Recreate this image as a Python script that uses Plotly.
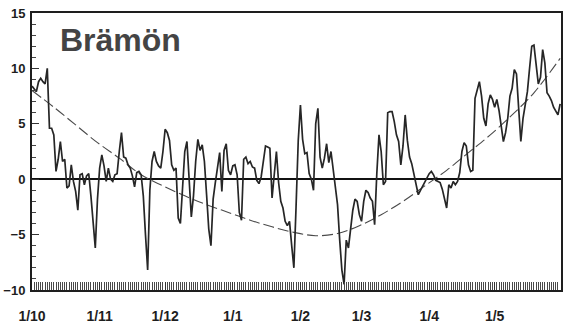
import plotly.graph_objects as go

# Month starts from 1 October to 1 May, and their axis labels
month_lengths = [31, 30, 31, 31, 28, 31, 30]
tick_labels = ["1/10", "1/11", "1/12", "1/1", "1/2", "1/3", "1/4", "1/5"]

# Daily mean air temperature (°C), one value per day from 1 October
temp = [
    8.4, 8.1, 7.9, 8.8, 9.1, 8.8, 8.6, 10.0, 4.6, 4.6,
    4.0, 0.7, 1.8, 3.4, 1.6, 1.8, -0.8, -0.6, 1.3, -0.2,
    -1.1, -2.8, 0.4, 0.5, -0.5, 0.3, 0.5, -1.5, -4.0, -6.2,
    -1.8, 1.0, 2.2, 1.2, -0.2, 1.0, 0.0, -0.2, 0.4, 0.5,
    2.5, 4.2, 2.0, 1.9, 1.3, 1.0, 0.3, -0.7, 0.6, 0.7,
    0.4, -1.5, -5.0, -8.2, -1.0, 1.6, 2.5, 1.6, 1.2, 1.0,
    2.5, 4.5, 4.2, 3.5, 1.3, 0.8, 1.0, -3.5, -4.0, -1.1,
    2.5, 3.4, 0.0, -3.4, -1.5, 1.6, 3.6, 2.6, 3.1, 1.6,
    -1.4, -4.5, -6.0, -1.8, -0.3, 1.0, 2.4, -1.1, 2.6, 3.2,
    0.8, 0.4, 1.2, 1.3, 0.4, -3.0, -3.7, 1.8, 2.0, 1.4,
    1.6, 1.1, 1.0, -0.1, -0.4, 0.2, 1.6, 3.0, 2.9, 2.8,
    -1.7, 0.5, 2.5, -0.3, -2.0, -2.6, -3.8, -4.2, -3.8, -6.0,
    -8.0, -2.5, 3.5, 6.7, 3.6, 2.3, 2.4, 0.5, 0.0, -1.0,
    5.0, 6.4, 2.0, 1.0, 1.9, 3.2, 1.5, 2.5, 0.8, -0.6,
    -2.3, -5.5, -8.2, -9.5, -5.5, -6.2, -4.5, -2.8, -1.8, -2.0,
    -3.2, -3.8, -2.0, -1.0, -1.2, -1.7, -2.0, -4.1, 0.5, 4.0,
    2.5, -0.5, -0.2, 6.0, 6.1, 6.1, 5.2, 4.0, 3.4, 1.3,
    3.0, 5.8, 3.5, 2.0, 1.4, 0.5, -0.5, -1.4, -1.0, -0.6,
    -0.2, 0.2, 0.5, 0.7, 0.4, -0.1, -0.2, -0.3, -0.9, -1.8,
    -2.6, -0.5, -0.8, -0.2, -0.5, -0.2, 0.6, 2.5, 3.3, 3.0,
    1.3, 0.7, 0.8, 7.3, 8.0, 8.8, 7.5, 5.5, 4.8, 6.8,
    7.6, 7.2, 6.5, 7.2, 6.2, 5.0, 3.4, 4.2, 5.5, 7.5,
    8.2, 9.9, 9.5, 6.4, 3.4, 5.5, 6.7, 7.9, 10.0, 12.0,
    12.1, 10.2, 8.6, 9.2, 11.7, 10.5, 7.8, 7.5, 7.1, 6.5,
    6.1, 5.8, 6.8,
]
days = list(range(len(temp)))

# Long-term normal temperature (°C) at ten-day steps
normal_days = [0, 10, 20, 30, 40, 50, 60, 70, 80, 90, 100, 110, 120,
               130, 140, 150, 160, 170, 180, 190, 200, 210, 220, 230, 242]
normal_vals = [8.0, 6.5, 4.9, 3.3, 1.9, 0.4, -0.6, -1.5, -2.3, -3.0, -3.7,
               -4.3, -4.8, -5.1, -4.9, -4.2, -3.2, -2.0, -0.6, 0.8, 2.4,
               4.0, 5.8, 7.8, 10.9]

y_ticks = [-10, -5, 0, 5, 10, 15]

tick_days = [0]
for n in month_lengths:
    tick_days.append(tick_days[-1] + n)

font_family = "Liberation Sans, Arial, sans-serif"

fig = go.Figure()
fig.add_trace(go.Scatter(
    x=normal_days, y=normal_vals, mode="lines",
    line=dict(color="#4a4a4a", width=1.1, dash="11px,4px", shape="spline"),
    hoverinfo="skip",
))
fig.add_trace(go.Scatter(
    x=days, y=temp, mode="lines",
    line=dict(color="#262626", width=1.7),
))

fig.add_annotation(
    text="<b>Brämön</b>", xref="paper", yref="paper",
    x=0.049, y=0.903, xanchor="left", yanchor="middle", showarrow=False,
    font=dict(family=font_family, size=32, color="#444444"),
)

fig.update_layout(
    width=566, height=327,
    margin=dict(l=29, r=3, t=13, b=35),
    paper_bgcolor="white", plot_bgcolor="white",
    showlegend=False,
    font=dict(family=font_family, color="#222222"),
    xaxis=dict(
        range=[0, 242.4], tickvals=tick_days, ticktext=tick_labels,
        ticks="inside", ticklen=8, tickwidth=1.2, tickcolor="#333333",
        showline=True, linecolor="#1e1e1e", linewidth=2, mirror=True,
        showgrid=False, zeroline=False,
        minor=dict(tick0=0, dtick=1, ticks="inside", ticklen=8,
                   tickwidth=1.2, tickcolor="#4a4a4a"),
        tickfont=dict(size=14, color="#1e1e1e", weight="bold"),
        ticklabelstandoff=12,
    ),
    yaxis=dict(
        range=[-10, 15], tickvals=y_ticks,
        ticks="inside", ticklen=7, tickwidth=1.2, tickcolor="#333333",
        showline=True, linecolor="#1e1e1e", linewidth=2, mirror=True,
        showgrid=False,
        zeroline=True, zerolinecolor="#111111", zerolinewidth=2,
        minor=dict(tick0=0, dtick=1, ticks="inside", ticklen=4,
                   tickwidth=1, tickcolor="#444444"),
        tickfont=dict(size=13, color="#1e1e1e", weight="bold"),
        ticklabelstandoff=2,
    ),
)

fig.write_html("out.html")
